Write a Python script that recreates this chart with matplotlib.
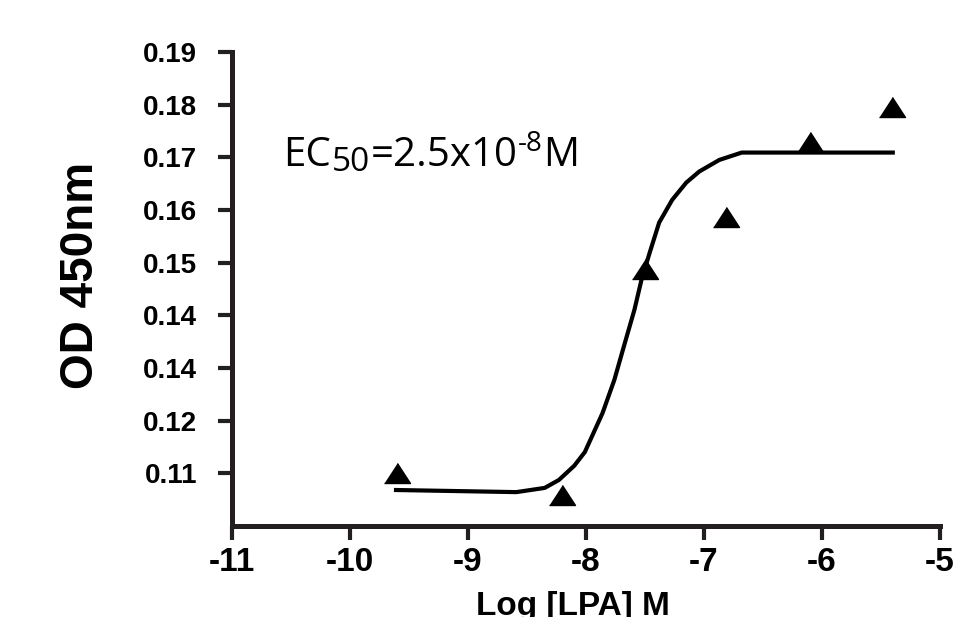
import matplotlib
matplotlib.use("Agg")
from matplotlib import pyplot as plt

# measured points (log concentration, OD)
log_conc = [-9.60, -8.20, -7.50, -6.81, -6.10, -5.41]
od_450 = [0.1101, 0.1059, 0.1488, 0.1587, 0.1729, 0.1796]

# fitted curve
fit_x = [-9.61, -8.59, -8.35, -8.23, -8.10, -8.01, -7.86, -7.76, -7.68, -7.59,
         -7.53, -7.46, -7.38, -7.27, -7.15, -7.04, -6.87, -6.68, -5.40]
fit_y = [0.1068, 0.1064, 0.1072, 0.1087, 0.1114, 0.1140, 0.1214, 0.1277, 0.1340, 0.1410,
         0.1467, 0.1519, 0.1576, 0.1619, 0.1652, 0.1673, 0.1695, 0.1709, 0.1709]

x_ticks = [-11, -10, -9, -8, -7, -6, -5]
y_ticks = [0.11, 0.12, 0.13, 0.14, 0.15, 0.16, 0.17, 0.18, 0.19]
y_tick_labels = ["0.11", "0.12", "0.14", "0.14", "0.15", "0.16", "0.17", "0.18", "0.19"]

ink = "#231f20"
plt.rcParams["font.family"] = ["Liberation Sans", "DejaVu Sans"]

fig = plt.figure(figsize=(9.54, 6.17), dpi=100)
ax = fig.add_axes([0.2432, 0.1478, 0.7421, 0.7679])

ax.plot(fit_x, fit_y, color="black", linewidth=3, zorder=2)
tri = [(-1, -0.77), (1, -0.77), (0, 0.77)]
ax.plot(log_conc, od_450, linestyle="none", marker=tri, markersize=18.7,
        color="black", zorder=3)

ax.set_xlim(-11, -5)
ax.set_ylim(0.10, 0.19)
ax.set_xticks(x_ticks)
ax.set_xticklabels([str(t) for t in x_ticks], fontsize=24, fontweight="bold")
ax.set_yticks(y_ticks)
ax.set_yticklabels(y_tick_labels, fontsize=20, fontweight="bold")

for side in ["top", "right"]:
    ax.spines[side].set_visible(False)
for side in ["left", "bottom"]:
    ax.spines[side].set_linewidth(3.6)
    ax.spines[side].set_color(ink)
    ax.spines[side].set_capstyle("projecting")

ax.tick_params(axis="y", length=10, width=3, color=ink, pad=15)
ax.tick_params(axis="x", length=10, width=3, color=ink, pad=5)

ax.set_ylabel("OD 450nm", fontsize=33, fontweight="bold")
ax.yaxis.set_label_coords(-0.182, 0.529)
ax.set_xlabel("Log [LPA] M", fontsize=24, fontweight="bold")
ax.xaxis.set_label_coords(0.481, -0.138)

# EC50 annotation built from pieces so the hyphen and sizes stay as in the source
base_y = (617 - 166) / 617
ec = fig.text(283 / 954, base_y, "EC", fontsize=29, family="Open Sans", va="baseline")
pieces = [("50", 24, -3.6), ("=2.5x10", 29, 0), ("-8", 20, 10.5), ("M", 29, 0)]
prev = ec
for txt, size, dy in pieces:
    prev = ax.annotate(txt, xy=(1, base_y), xycoords=(prev, "figure fraction"),
                       xytext=(0.5, dy), textcoords="offset points",
                       fontsize=size, family="Open Sans", ha="left", va="baseline",
                       annotation_clip=False)

fig.savefig("out.png", dpi=100)
